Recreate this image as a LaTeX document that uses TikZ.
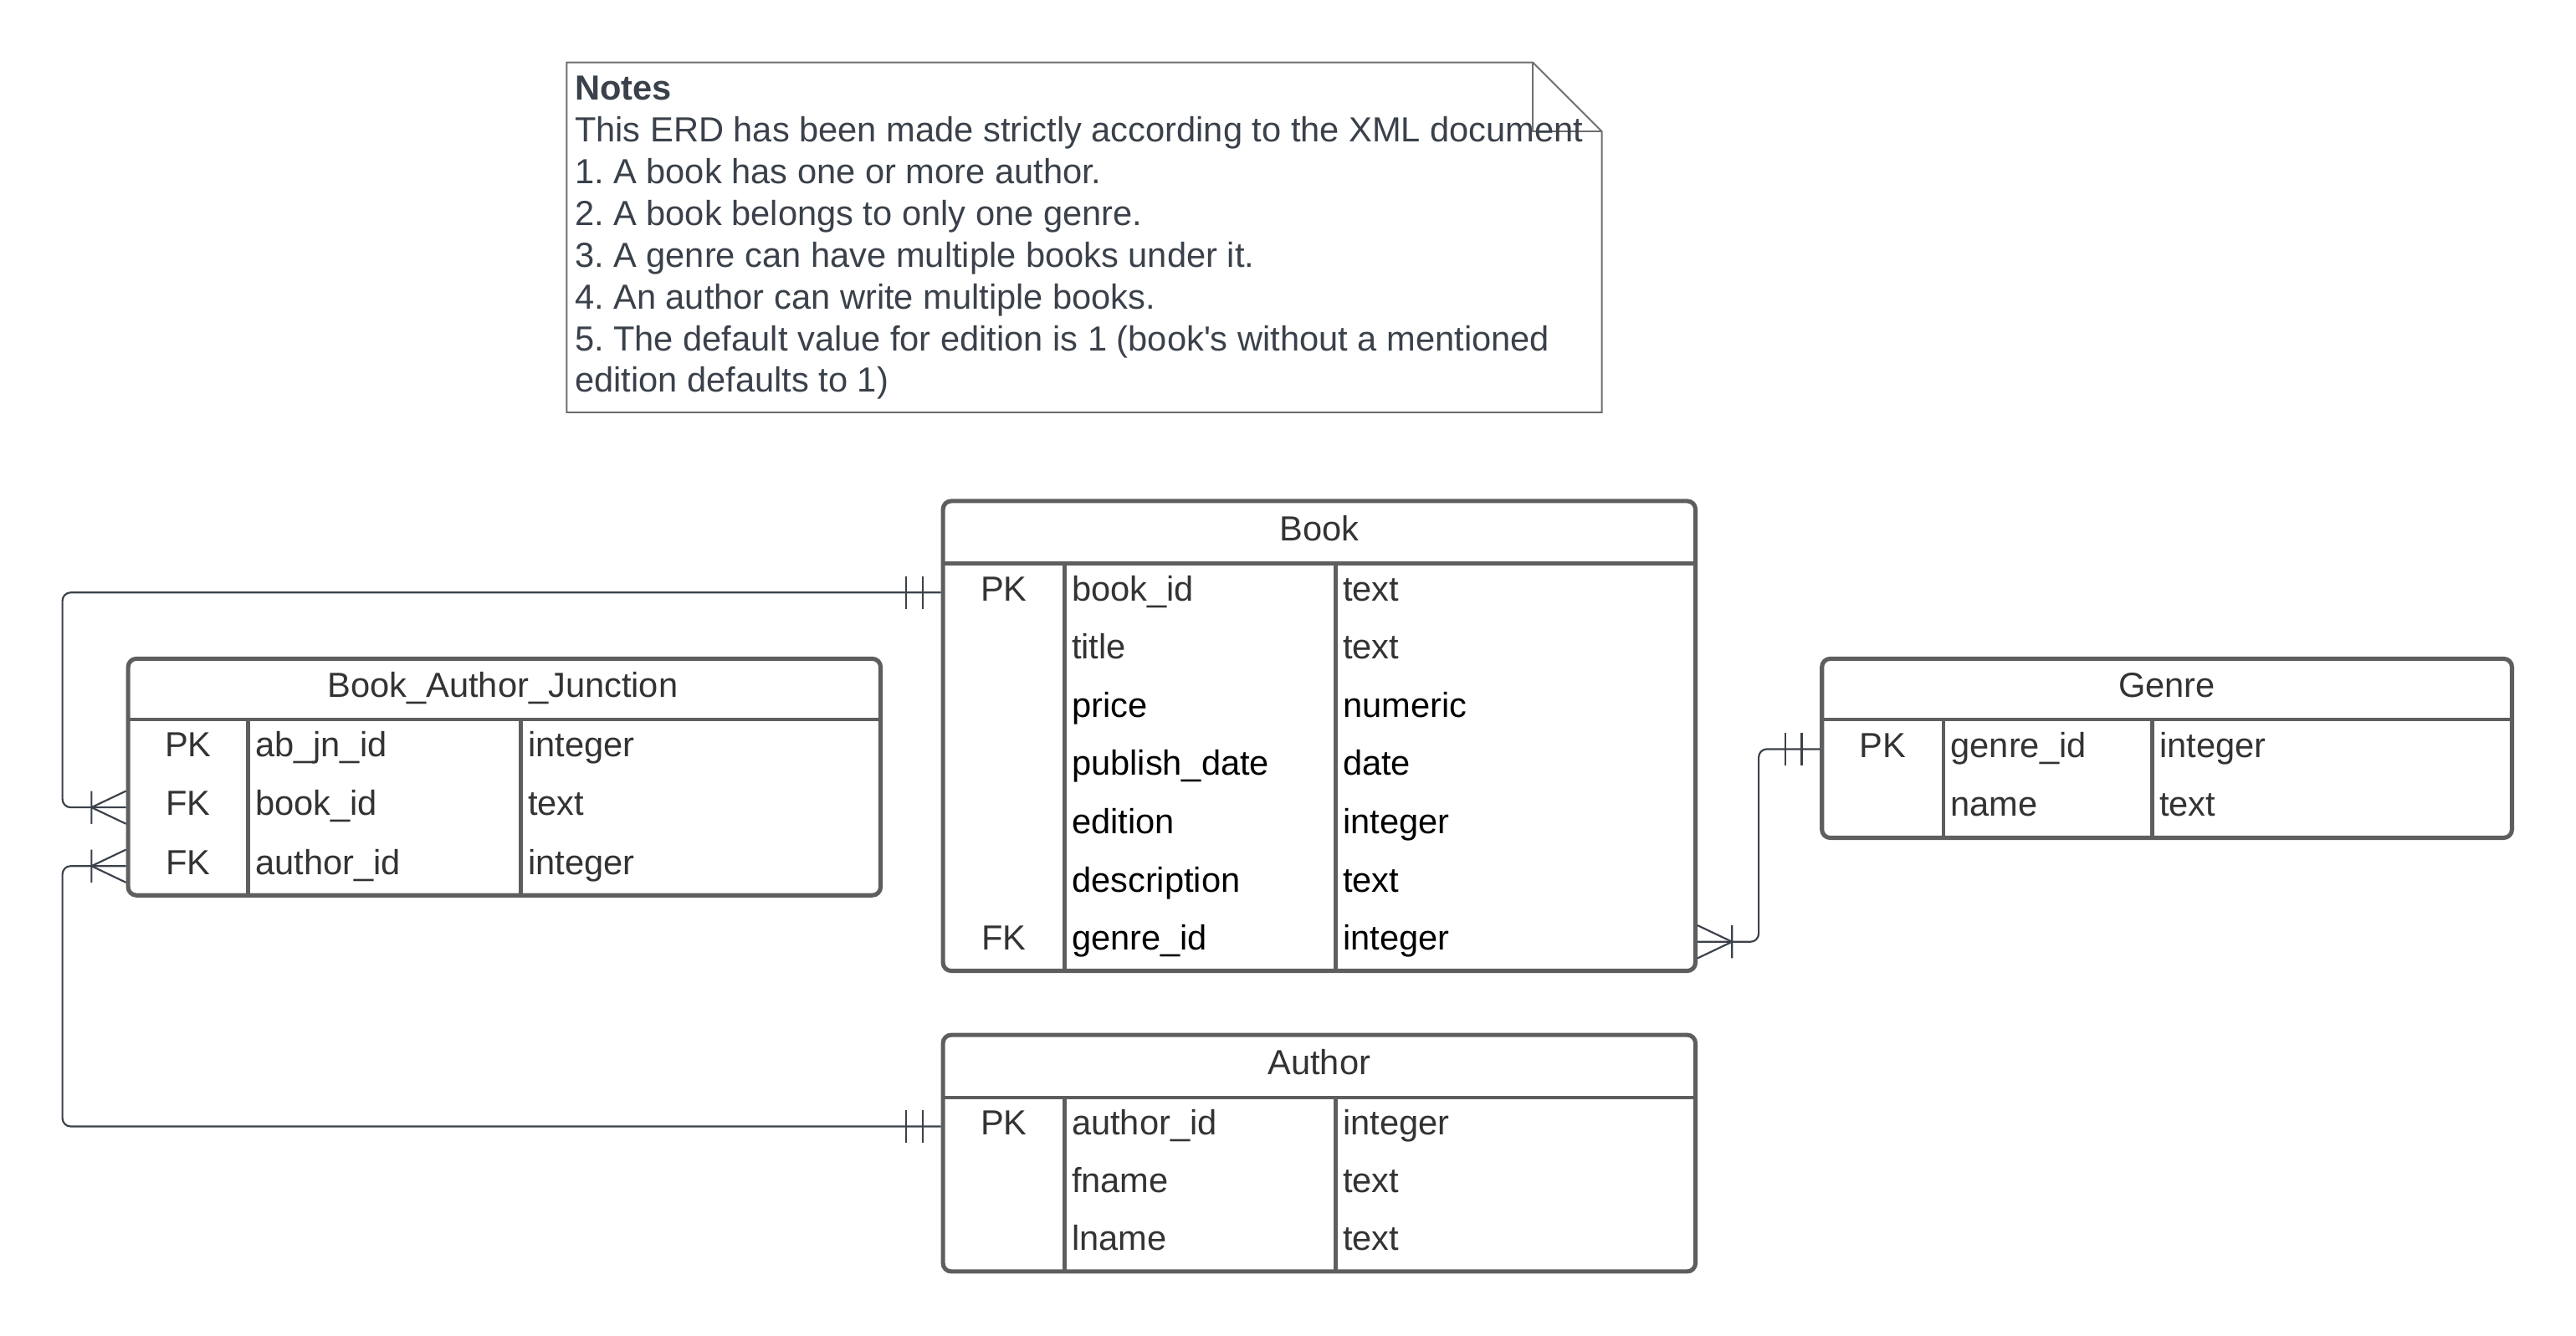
\documentclass[tikz,border=0pt]{standalone}
\usepackage{fontspec}
\setmainfont{Liberation Sans}
\usetikzlibrary{fit}
\frenchspacing
\definecolor{tablegray}{HTML}{5E5E5E}
\definecolor{celltext}{HTML}{333333}
\definecolor{linegray}{HTML}{3A414A}
\definecolor{notegray}{HTML}{6E6E6E}
\tikzset{
  entity/.style={draw=tablegray, line width=1.3pt, rounded corners=2.5pt, inner sep=0pt},
  divider/.style={draw=tablegray, line width=1.1pt},
  cell/.style={anchor=west, inner sep=0pt, text height=8.5pt, text depth=3.5pt, text=celltext, font=\fontsize{10.6}{12}\selectfont},
  keycell/.style={cell, anchor=center},
  darkcell/.style={cell, text=black},
  rel/.style={draw=linegray, line width=0.55pt, rounded corners=2.5pt},
  relend/.style={draw=linegray, line width=0.55pt},
  onlyone/.pic={\draw[relend] (-11,-10) -- (-11,10) (-21,-10) -- (-21,10);},
  onemany/.pic={\draw[relend] (-21,-10) -- (-21,10) (0,-10) -- (-21,0) -- (0,10);}
}
\begin{document}
\begin{tikzpicture}[x=0.5pt,y=-0.5pt]
\useasboundingbox (0,0) rectangle (1568,813);

\draw[draw=notegray, line width=0.5pt] (345,38) -- (933,38) -- (975,80) -- (975,251) -- (345,251) -- cycle;
\draw[draw=notegray, line width=0.5pt] (933,38) -- (933,80) -- (975,80);
\node[anchor=north west, inner sep=0pt, align=left, text=linegray, font=\fontsize{10.6}{12.7}\selectfont] (notes) at (349.5,46)
  {\textbf{Notes}\\
   This ERD has been made strictly according to the XML document\\
   1. A book has one or more author.\\
   2. A book belongs to only one genre.\\
   3. A genre can have multiple books under it.\\
   4. An author can write multiple books.\\
   5. The default value for edition is 1 (book\textquotesingle s without a mentioned\\
   edition defaults to 1)};

\node[entity, fit={(574,305) (1032,591)}] (book) {};
\draw[divider] (574,343) -- (1032,343);
\draw[divider] (648,343) -- (648,591);
\draw[divider] (813,343) -- (813,591);
\node[keycell] (bk-head) at (803,324) {Book};
\node[keycell] (bk-pk) at (611,360.7) {PK};
\node[cell] (bk-id) at (652,360.7) {book\_id};
\node[cell] (bk-idt) at (817,360.7) {text};
\node[cell] (bk-title) at (652,396.1) {title};
\node[cell] (bk-titlet) at (817,396.1) {text};
\node[darkcell] (bk-price) at (652,431.6) {price};
\node[darkcell] (bk-pricet) at (817,431.6) {numeric};
\node[darkcell] (bk-date) at (652,467.0) {publish\_date};
\node[darkcell] (bk-datet) at (817,467.0) {date};
\node[darkcell] (bk-ed) at (652,502.4) {edition};
\node[darkcell] (bk-edt) at (817,502.4) {integer};
\node[darkcell] (bk-desc) at (652,537.9) {description};
\node[darkcell] (bk-desct) at (817,537.9) {text};
\node[keycell] (bk-fk) at (611,573.3) {FK};
\node[darkcell] (bk-gid) at (652,573.3) {genre\_id};
\node[darkcell] (bk-gidt) at (817,573.3) {integer};

\node[entity, fit={(78,401) (536,545)}] (baj) {};
\draw[divider] (78,438) -- (536,438);
\draw[divider] (151,438) -- (151,545);
\draw[divider] (317,438) -- (317,545);
\node[keycell] (baj-head) at (306,419.5) {Book\_Author\_Junction};
\node[keycell] (baj-pk) at (114.5,455.8) {PK};
\node[cell] (baj-id) at (155,455.8) {ab\_jn\_id};
\node[cell] (baj-idt) at (321,455.8) {integer};
\node[keycell] (baj-fk1) at (114.5,491.5) {FK};
\node[cell] (baj-bk) at (155,491.5) {book\_id};
\node[cell] (baj-bkt) at (321,491.5) {text};
\node[keycell] (baj-fk2) at (114.5,527.2) {FK};
\node[cell] (baj-au) at (155,527.2) {author\_id};
\node[cell] (baj-aut) at (321,527.2) {integer};

\node[entity, fit={(1109,401) (1529,510)}] (genre) {};
\draw[divider] (1109,438) -- (1529,438);
\draw[divider] (1183,438) -- (1183,510);
\draw[divider] (1310,438) -- (1310,510);
\node[keycell] (gn-head) at (1319,419.5) {Genre};
\node[keycell] (gn-pk) at (1146,456) {PK};
\node[cell] (gn-id) at (1187,456) {genre\_id};
\node[cell] (gn-idt) at (1314,456) {integer};
\node[cell] (gn-name) at (1187,492) {name};
\node[cell] (gn-namet) at (1314,492) {text};

\node[entity, fit={(574,630) (1032,774)}] (author) {};
\draw[divider] (574,668) -- (1032,668);
\draw[divider] (648,668) -- (648,774);
\draw[divider] (813,668) -- (813,774);
\node[keycell] (au-head) at (803,649) {Author};
\node[keycell] (au-pk) at (611,685.7) {PK};
\node[cell] (au-id) at (652,685.7) {author\_id};
\node[cell] (au-idt) at (817,685.7) {integer};
\node[cell] (au-fn) at (652,721) {fname};
\node[cell] (au-fnt) at (817,721) {text};
\node[cell] (au-ln) at (652,756.3) {lname};
\node[cell] (au-lnt) at (817,756.3) {text};

\coordinate (rail) at (38,0);
\coordinate (gbend) at (1070.5,0);
\draw[rel] (book.west |- bk-id) -- (rail |- bk-id) -- (rail |- baj-bk) -- (baj.west |- baj-bk);
\draw[rel] (author.west |- au-id) -- (rail |- au-id) -- (rail |- baj-au) -- (baj.west |- baj-au);
\draw[rel] (book.east |- bk-gid) -- (gbend |- bk-gid) -- (gbend |- gn-id) -- (genre.west |- gn-id);
\pic at (book.west |- bk-id) {onlyone};
\pic at (baj.west |- baj-bk) {onemany};
\pic at (author.west |- au-id) {onlyone};
\pic at (baj.west |- baj-au) {onemany};
\pic[rotate=180] at (book.east |- bk-gid) {onemany};
\pic at (genre.west |- gn-id) {onlyone};
\end{tikzpicture}
\end{document}
